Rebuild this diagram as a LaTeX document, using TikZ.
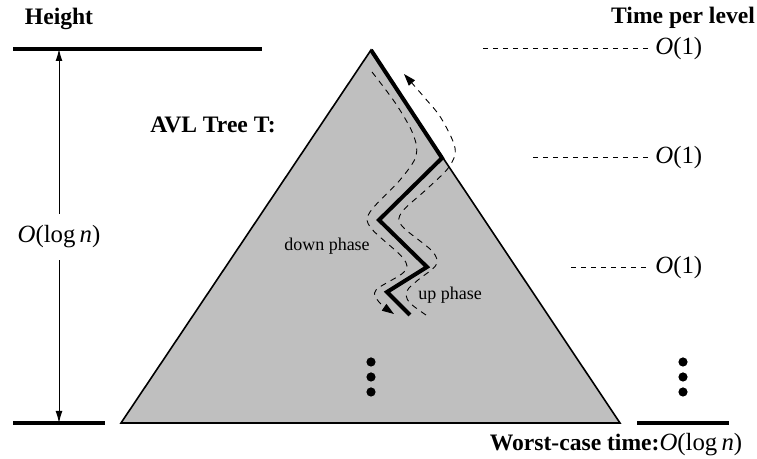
\documentclass[tikz,border=0pt]{standalone}
\usepackage{fontspec}
\setmainfont{Liberation Serif}
\usetikzlibrary{arrows.meta}
\begin{document}
\begin{tikzpicture}[x=0.5pt,y=-0.5pt,
  lbl/.style={font=\fontsize{12.4}{14}\selectfont, inner sep=0pt},
  blbl/.style={font=\fontsize{11.8}{14}\selectfont\bfseries, inner sep=0pt},
  smalllbl/.style={font=\fontsize{9}{11}\selectfont, inner sep=0pt},
  levelline/.style={dash pattern=on 2.5pt off 2.5pt, line width=0.5pt},
  barline/.style={line width=1.6pt},
  zig/.style={line width=2pt, line join=miter},
  phase/.style={dash pattern=on 3pt off 2.6pt, line width=0.45pt},
  phasetip/.style={-{Triangle[length=6pt,width=4pt]}},
  dotmark/.style={circle, fill=black, inner sep=0pt, minimum size=4.6pt},
  hgt/.style={{Latex[length=6pt,width=3.4pt]}-{Latex[length=6pt,width=3.4pt]}, line width=0.45pt}
]
\useasboundingbox (0,0) rectangle (757,459);

% triangle
\coordinate (apex) at (371,50);
\coordinate (bl) at (121,423);
\coordinate (br) at (620,423);
\filldraw[fill=black!25, draw=black, line width=0.8pt] (apex) -- (br) -- (bl) -- cycle;

% zigzag search path
\coordinate (A) at (442,158);
\coordinate (B) at (379,220);
\coordinate (C) at (427,267);
\coordinate (D) at (387,292);
\coordinate (E) at (410,315);
\draw[zig] (apex) -- (A) -- (B) -- (C) -- (D) -- (E);

% down phase dashed
\draw[phase, phasetip] plot[smooth, tension=0.55] coordinates {
  (372,72) (396,104) (413,134) (416,156) (400,180) (370,212) (371,228)
  (403,258) (404,272) (376,290) (379,302) (394,314)};
% up phase dashed
\draw[phase, phasetip] plot[smooth, tension=0.55] coordinates {
  (426,315) (409,302) (407,291) (418,280) (436,265) (432,251)
  (402,226) (402,212) (428,188) (449,167) (455,148) (441,118) (424,97) (404,74)};

% dots inside triangle
\node[dotmark] (t1) at (371,362) {};
\node[dotmark] (t2) at (371,377) {};
\node[dotmark] (t3) at (371,392) {};

% labels in triangle
\node[blbl] (avl) at (213,125) {AVL Tree T:};
\node[smalllbl] (down) at (327,246) {down phase};
\node[smalllbl, anchor=west] (up) at (418,295) {up phase};

% height
\node[blbl] (height) at (59,19) {Height};
\coordinate (topL) at (13,49);
\coordinate (topR) at (262,49);
\coordinate (botL) at (13,423);
\coordinate (botR) at (105,423);
\coordinate (htop) at (59,49);
\coordinate (hbot) at (59,423);
\draw[barline] (topL) -- (topR);
\draw[barline] (botL) -- (botR);
\draw[hgt] (htop) -- (hbot);
\node[lbl, fill=white, inner ysep=6pt] (hlab) at (59,237) {\textit{O}(log\,\textit{n})};

% time per level
\node[blbl] (tpl) at (683,18) {Time per level};
\coordinate (l1) at (483,49);
\coordinate (l2) at (533,158);
\coordinate (l3) at (571,268);
\node[lbl, anchor=west] (o1) at (655,49) {\textit{O}(1)};
\node[lbl, anchor=west] (o2) at (655,158) {\textit{O}(1)};
\node[lbl, anchor=west] (o3) at (655,268) {\textit{O}(1)};
\draw[levelline] (l1) -- ([xshift=-3.5pt]o1.west);
\draw[levelline] (l2) -- ([xshift=-3.5pt]o2.west);
\draw[levelline] (l3) -- ([xshift=-3.5pt]o3.west);

\node[dotmark] (r1) at (683,362) {};
\node[dotmark] (r2) at (683,377) {};
\node[dotmark] (r3) at (683,392) {};

\coordinate (wl) at (637,423);
\coordinate (wr) at (729,423);
\draw[barline] (wl) -- (wr);
\node[lbl] (worst) at (616,445) {{\fontsize{11.8}{14}\selectfont\bfseries Worst-case time:}\textit{O}(log\,\textit{n})};
\end{tikzpicture}
\end{document}
